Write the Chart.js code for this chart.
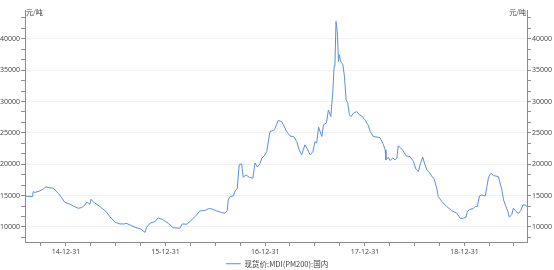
<!DOCTYPE html>
<html>
<head>
<meta charset="utf-8">
<script src="https://cdn.jsdelivr.net/npm/chart.js@4"></script>
<style>
  body { margin: 0; background: #fff; }
  #wrap { width: 554px; height: 270px; }
</style>
</head>
<body>
<div id="wrap"><canvas id="myChart" width="554" height="270"></canvas></div>
<script>
  // 现货价:MDI(PM200):国内, 元/吨
  var dates = [
    "2014-08-03","2014-08-31","2014-09-02","2014-09-08","2014-09-27","2014-10-09","2014-10-19","2014-11-02","2014-11-14","2014-12-03",
    "2014-12-27","2015-01-15","2015-01-27","2015-02-14","2015-02-27","2015-03-11","2015-03-17","2015-03-23","2015-03-29","2015-04-02",
    "2015-04-10","2015-05-05","2015-05-27","2015-06-10","2015-06-29","2015-07-17","2015-08-04","2015-08-08","2015-08-23","2015-09-10",
    "2015-10-01","2015-10-13","2015-10-17","2015-10-23","2015-11-04","2015-11-22","2015-12-04","2015-12-23","2016-01-10","2016-01-28",
    "2016-02-22","2016-03-01","2016-03-18","2016-04-05","2016-04-23","2016-05-05","2016-05-24","2016-06-05","2016-06-17","2016-07-06",
    "2016-07-24","2016-08-05","2016-08-13","2016-08-17","2016-08-23","2016-09-04","2016-09-13","2016-09-19","2016-09-26","2016-10-05",
    "2016-10-11","2016-10-21","2016-11-02","2016-11-15","2016-11-23","2016-12-02","2016-12-11","2016-12-18","2016-12-30","2017-01-05",
    "2017-01-17","2017-01-29","2017-02-04","2017-02-16","2017-03-01","2017-03-07","2017-03-19","2017-03-31","2017-04-15","2017-04-25",
    "2017-05-04","2017-05-13","2017-05-19","2017-05-25","2017-06-03","2017-06-13","2017-06-23","2017-07-01","2017-07-07","2017-07-14",
    "2017-07-26","2017-08-01","2017-08-12","2017-08-19","2017-08-28","2017-09-04","2017-09-09","2017-09-12","2017-09-16","2017-09-21",
    "2017-09-25","2017-09-28","2017-10-03","2017-10-11","2017-10-17","2017-10-23","2017-10-29","2017-11-04","2017-11-10","2017-11-19",
    "2017-12-01","2017-12-11","2017-12-19","2017-12-31","2018-01-13","2018-01-19","2018-01-31","2018-02-18","2018-02-24","2018-03-09",
    "2018-03-15","2018-03-18","2018-03-27","2018-04-02","2018-04-12","2018-04-20","2018-04-27","2018-05-02","2018-05-11","2018-05-19",
    "2018-05-31","2018-06-14","2018-06-27","2018-07-06","2018-07-15","2018-07-21","2018-07-31","2018-08-08","2018-08-15","2018-08-21",
    "2018-08-27","2018-09-02","2018-09-10","2018-09-20","2018-09-26","2018-10-09","2018-10-27","2018-11-14","2018-12-03","2018-12-15",
    "2018-12-27","2019-01-06","2019-01-10","2019-01-20","2019-02-01","2019-02-08","2019-02-16","2019-02-24","2019-03-04","2019-03-17",
    "2019-03-23","2019-03-29","2019-04-07","2019-04-16","2019-05-04","2019-05-17","2019-05-23","2019-06-01","2019-06-08","2019-06-13",
    "2019-06-22","2019-06-28","2019-07-08","2019-07-17","2019-07-25","2019-08-02","2019-08-10","2019-08-17"
  ];
  var prices = [
    14900,14850,15640,15500,15750,16070,16400,16230,16200,15380,
    13940,13620,13350,12980,13100,13510,13940,13800,13650,14420,
    14000,13250,12450,11650,10750,10480,10480,10600,10320,9950,
    9680,9250,9150,9950,10590,10850,11450,11120,10590,9890,
    9790,10480,10430,11120,11920,12560,12610,12920,12880,12560,
    12290,12190,12600,14310,14840,14950,15900,16100,19900,20060,
    17930,18300,17930,17770,20200,19540,20060,20970,21500,22030,
    25220,25380,25640,26980,26800,26290,25220,24530,24370,23620,
    22300,21500,22300,23100,22400,21500,22000,23620,23350,25920,
    24420,26290,26600,28650,27620,31350,35600,35850,42780,40930,
    36400,37470,36400,35870,34000,30280,29750,27880,27620,28150,
    28400,27880,27700,27080,26130,25220,24420,24300,24250,23100,
    22300,20700,21130,20590,21000,20700,21000,22940,22600,22200,
    21340,21230,20430,19210,18830,19900,21130,19900,19100,18800,
    18570,18030,17760,16180,14840,14040,13240,12600,12180,11380,
    11380,11560,12450,12820,12930,13250,13250,14950,15100,14950,
    16440,17930,18570,18200,18030,15910,14310,13250,12450,11550,
    11980,12980,12450,12180,12610,13510,13510,13250
  ];
  var yearEnds = ["2014-12-31","2015-12-31","2016-12-31","2017-12-31","2018-12-31"];
  var quarterEnds = ["2014-09-30","2014-12-31","2015-03-31","2015-06-30","2015-09-30","2015-12-31",
    "2016-03-31","2016-06-30","2016-09-30","2016-12-31","2017-03-31","2017-06-30","2017-09-30","2017-12-31",
    "2018-03-31","2018-06-30","2018-09-30","2018-12-31","2019-03-31","2019-06-30"];
  var yMajor = [10000,15000,20000,25000,30000,35000,40000];
  var yMin = 7600, yMax = 44600;
  var unitLabel = "元/吨";
  var seriesName = "现货价:MDI(PM200):国内";

  function ms(s) { var p = s.split("-"); return Date.UTC(+p[0], +p[1] - 1, +p[2]); }

  var points = dates.map(function (d, i) { return { x: ms(d), y: prices[i] }; });
  var yearMs = yearEnds.map(ms);

  // y ticks: majors plus two minors between each (as in the picture)
  var yTicks = [];
  for (var v = yMajor[0] - 5000; v <= yMax; v += 5000 / 3) {
    var r = Math.round(v);
    if (r >= yMin && r <= yMax) yTicks.push(r);
  }
  function isMajorY(val) { return yMajor.indexOf(val) >= 0; }

  var axisColor = "#8c8c8c";
  var textColor = "#404040";
  var tickFont = { family: "'Open Sans', 'Noto Sans', sans-serif", size: 7 };

  function yAxis(pos, w) {
    return {
      type: "linear",
      position: pos,
      min: yMin,
      max: yMax,
      afterBuildTicks: function (scale) { scale.ticks = yTicks.map(function (t) { return { value: t }; }); },
      afterFit: function (scale) { scale.width = w; },
      ticks: {
        autoSkip: false,
        padding: 1,
        color: textColor,
        font: tickFont,
        callback: function (val) { return isMajorY(val) ? String(val) : ""; }
      },
      grid: {
        drawOnChartArea: pos === "left",
        color: function (c) { return c.tick && isMajorY(c.tick.value) ? "#f2f2f2" : "rgba(0,0,0,0)"; },
        tickColor: axisColor,
        tickLength: 4,
        lineWidth: 1
      },
      border: { display: true, color: axisColor, width: 1 }
    };
  }

  var unitPlugin = {
    id: "unitLabels",
    beforeLayout: function (chart) {
      // keep the legend strip short, as in the picture
      var lg = chart.legend;
      if (lg && !lg._short) {
        var fit = lg.fit;
        lg.fit = function () { fit.call(this); this.height = 12; };
        lg._short = true;
      }
    },
    afterDraw: function (chart) {
      var ctx = chart.ctx, a = chart.chartArea;
      ctx.save();
      ctx.fillStyle = textColor;
      ctx.font = "7px 'Noto Sans CJK SC', sans-serif";
      ctx.textBaseline = "middle";
      ctx.textAlign = "left";
      ctx.fillText(unitLabel, a.left + 1, a.top + 2);
      ctx.textAlign = "right";
      ctx.fillText(unitLabel, a.right - 1, a.top + 2);
      ctx.restore();
    }
  };

  var ctx = document.getElementById("myChart");
  var myChart = new Chart(ctx, {
    type: "line",
    data: {
      datasets: [
        {
          label: seriesName,
          data: points,
          borderColor: "#5b8fd6",
          backgroundColor: "#5b8fd6",
          borderWidth: 1,
          pointRadius: 0,
          tension: 0,
          fill: false,
          yAxisID: "y"
        }
      ]
    },
    options: {
      responsive: false,
      animation: false,
      layout: { padding: { top: 10, left: 0, right: 0, bottom: 0 } },
      scales: {
        x: {
          type: "linear",
          min: ms(dates[0]),
          max: ms(dates[dates.length - 1]),
          afterBuildTicks: function (scale) { scale.ticks = quarterEnds.map(function (d) { return { value: ms(d) }; }); },
          afterFit: function (scale) { scale.height = 16; },
          ticks: {
            autoSkip: false,
            maxRotation: 0,
            padding: 2,
            color: textColor,
            font: tickFont,
            callback: function (val) {
              var i = yearMs.indexOf(val);
              return i >= 0 ? yearEnds[i].slice(2) : "";
            }
          },
          grid: { drawOnChartArea: false, tickColor: axisColor, tickLength: 4 },
          border: { display: true, color: axisColor, width: 1 }
        },
        y: yAxis("left", 25),
        y2: yAxis("right", 27)
      },
      plugins: {
        legend: {
          position: "bottom",
          labels: {
            usePointStyle: true,
            pointStyle: "line",
            pointStyleWidth: 15,
            boxHeight: 6,
            padding: 2,
            color: textColor,
            font: { family: "'Noto Sans CJK SC', sans-serif", size: 7.5 }
          }
        },
        tooltip: { enabled: false }
      }
    },
    plugins: [unitPlugin]
  });
</script>
</body>
</html>
